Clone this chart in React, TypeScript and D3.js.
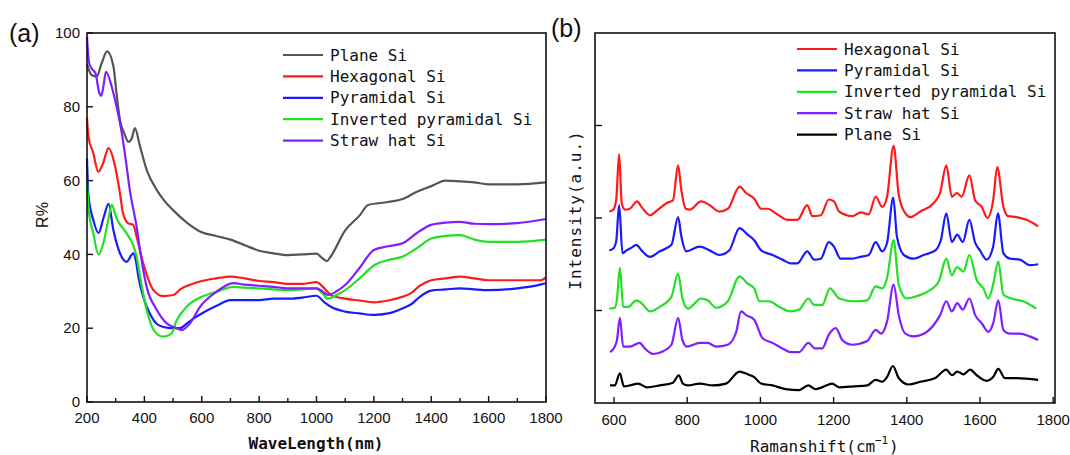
import React from "react";
import * as d3 from "d3";

type Pt = [number, number];

// ---- panel (a): reflectance vs wavelength ----
const reflNames = ["Plane Si", "Hexagonal Si", "Pyramidal Si", "Inverted pyramidal Si", "Straw hat Si"];
const reflColors = ["#555555", "#ff1a1a", "#1a1aff", "#22e022", "#7f1fff"];

const planeR: Pt[] = [[200, 91.5], [216, 88.6], [234, 88.2], [251, 91.8], [270, 95], [292, 91], [303, 83.6], [315, 76.4], [332, 72.4], [344, 70.5], [356, 71.5], [367, 74.2], [385, 69.2], [408, 62.9], [443, 57.5], [470, 54.5], [500, 52], [550, 48.5], [600, 46], [650, 45], [700, 44], [750, 42.5], [800, 41], [850, 40.3], [900, 39.8], [950, 40], [1000, 40.2], [1020, 39], [1036, 38.2], [1050, 39.5], [1100, 46.5], [1150, 50.5], [1180, 53.4], [1250, 54.2], [1300, 55], [1350, 57], [1400, 58.5], [1450, 60], [1500, 59.8], [1550, 59.5], [1600, 59], [1700, 59], [1800, 59.5]];
const hexR: Pt[] = [[200, 77], [205, 71.9], [222, 67.4], [239, 62.4], [255, 64.5], [275, 68.8], [298, 63.8], [315, 56.5], [326, 51], [344, 48.4], [361, 48], [373, 44.8], [396, 37.6], [431, 30.4], [466, 28.7], [501, 29], [525, 30.5], [550, 31.5], [600, 32.8], [650, 33.5], [700, 34], [750, 33.5], [800, 32.8], [850, 32.5], [900, 32], [950, 32], [1000, 32.5], [1025, 31], [1050, 29], [1100, 28], [1150, 27.5], [1200, 27], [1250, 27.5], [1300, 28.5], [1330, 29.5], [1360, 31.5], [1400, 33], [1450, 33.5], [1500, 34], [1550, 33.5], [1600, 33], [1700, 33], [1780, 33], [1800, 33.8]];
const pyrR: Pt[] = [[200, 66], [205, 56], [222, 49.3], [240, 45.8], [258, 50], [275, 53.7], [292, 46.6], [315, 40.3], [338, 38], [361, 40.3], [370, 38.5], [379, 34], [396, 28.5], [419, 24], [448, 20.9], [489, 20], [524, 20], [550, 21.4], [575, 22.8], [600, 24], [650, 26], [700, 27.6], [750, 27.6], [800, 27.6], [850, 28], [900, 28], [950, 28.3], [1000, 28.8], [1025, 27.2], [1050, 25.8], [1100, 24.5], [1150, 24], [1200, 23.6], [1250, 24], [1300, 25.4], [1330, 26.5], [1360, 28.5], [1400, 30.2], [1450, 30.5], [1500, 30.8], [1550, 30.5], [1600, 30.3], [1700, 30.8], [1780, 31.8], [1800, 32.2]];
const invR: Pt[] = [[200, 60], [206, 52], [222, 45.7], [240, 40], [257, 43], [274, 49.3], [286, 53.4], [303, 49.8], [338, 45.7], [361, 42.5], [373, 39.4], [385, 34], [408, 25], [437, 19], [466, 17.7], [495, 18.6], [512, 22], [547, 25.8], [594, 28.3], [652, 29.9], [710, 31.2], [750, 31], [800, 30.8], [850, 30.5], [900, 30.3], [950, 30.5], [1000, 30.8], [1020, 29.5], [1040, 28], [1070, 29], [1100, 30.3], [1150, 33.5], [1200, 37], [1250, 38.5], [1300, 39.4], [1350, 41.7], [1400, 44.3], [1450, 45], [1500, 45.2], [1550, 44], [1600, 43.4], [1700, 43.4], [1800, 44]];
const strawR: Pt[] = [[200, 99], [207, 92], [215, 90.5], [230, 89], [242, 84], [250, 83], [258, 86], [266, 89.5], [286, 85.5], [303, 80], [321, 73], [338, 64], [350, 57], [362, 52], [372, 48], [385, 41], [408, 31.2], [443, 25], [478, 21.3], [512, 20], [530, 19.5], [559, 21.3], [594, 25.8], [652, 29.9], [710, 32.2], [750, 31.8], [800, 31.5], [850, 31.2], [900, 30.8], [950, 30.8], [1000, 30.8], [1020, 30], [1040, 29], [1070, 30], [1100, 31.7], [1150, 36.3], [1200, 41.2], [1250, 42.2], [1300, 43], [1350, 45.8], [1400, 48], [1450, 48.6], [1500, 48.8], [1550, 48.3], [1600, 48.2], [1700, 48.5], [1800, 49.6]];
const reflSeries = [planeR, hexR, pyrR, invR, strawR];

// ---- panel (b): Raman spectra (stacked, arbitrary units) ----
const ramanNames = ["Hexagonal Si", "Pyramidal Si", "Inverted pyramidal Si", "Straw hat Si", "Plane Si"];
const ramanColors = ["#ff1a1a", "#1a1aff", "#22e022", "#7f1fff", "#000000"];

const hexRaman: Pt[] = [[587, 2.07], [598, 2.09], [606, 2.2], [614, 2.69], [621, 2.16], [630, 2.09], [643, 2.1], [663, 2.18], [675, 2.12], [698, 2.03], [720, 2.09], [743, 2.16], [761, 2.19], [775, 2.57], [784, 2.3], [796, 2.1], [807, 2.09], [838, 2.18], [861, 2.14], [888, 2.07], [911, 2.1], [943, 2.34], [961, 2.27], [983, 2.21], [1002, 2.1], [1020, 2.1], [1042, 2.05], [1074, 1.98], [1101, 1.98], [1128, 2.14], [1142, 2.02], [1165, 2.03], [1187, 2.2], [1201, 2.18], [1215, 2.07], [1251, 2.02], [1274, 2.06], [1296, 2.04], [1315, 2.23], [1333, 2.12], [1346, 2.23], [1364, 2.78], [1378, 2.25], [1396, 2.05], [1410, 2.01], [1437, 2.07], [1473, 2.16], [1491, 2.27], [1508, 2.57], [1523, 2.23], [1537, 2.27], [1550, 2.23], [1571, 2.46], [1587, 2.19], [1605, 2.12], [1620, 2.0], [1636, 2.19], [1647, 2.55], [1664, 2.12], [1677, 2.02], [1700, 2.01], [1727, 1.98], [1759, 1.91]];
const pyrRaman: Pt[] = [[587, 1.65], [598, 1.67], [606, 1.75], [614, 2.14], [623, 1.62], [634, 1.65], [648, 1.68], [661, 1.71], [675, 1.65], [698, 1.58], [725, 1.64], [757, 1.71], [775, 2.01], [784, 1.8], [797, 1.64], [834, 1.69], [861, 1.65], [888, 1.6], [915, 1.65], [943, 1.89], [965, 1.82], [983, 1.76], [1002, 1.65], [1033, 1.6], [1060, 1.55], [1083, 1.51], [1101, 1.51], [1128, 1.64], [1147, 1.55], [1165, 1.56], [1187, 1.74], [1201, 1.69], [1219, 1.56], [1246, 1.56], [1274, 1.58], [1296, 1.6], [1315, 1.74], [1333, 1.64], [1346, 1.73], [1363, 2.22], [1373, 1.8], [1392, 1.6], [1419, 1.56], [1446, 1.6], [1478, 1.65], [1493, 1.76], [1508, 2.05], [1523, 1.74], [1538, 1.82], [1553, 1.74], [1571, 1.98], [1587, 1.73], [1600, 1.65], [1618, 1.55], [1636, 1.69], [1649, 2.05], [1664, 1.62], [1682, 1.56], [1709, 1.55], [1736, 1.49], [1759, 1.5]];
const invRaman: Pt[] = [[587, 1.02], [602, 1.03], [608, 1.12], [616, 1.46], [625, 1.04], [639, 1.04], [661, 1.11], [675, 1.08], [698, 0.99], [725, 1.04], [757, 1.15], [775, 1.4], [787, 1.13], [802, 1.02], [838, 1.13], [856, 1.11], [879, 1.03], [911, 1.1], [943, 1.37], [965, 1.29], [983, 1.24], [997, 1.1], [1024, 1.1], [1051, 1.04], [1083, 0.99], [1106, 1.01], [1131, 1.13], [1147, 1.06], [1169, 1.06], [1190, 1.24], [1215, 1.13], [1256, 1.1], [1292, 1.11], [1315, 1.26], [1333, 1.24], [1346, 1.35], [1364, 1.76], [1378, 1.28], [1400, 1.13], [1423, 1.15], [1455, 1.2], [1487, 1.31], [1508, 1.56], [1523, 1.38], [1537, 1.47], [1555, 1.42], [1571, 1.6], [1591, 1.33], [1609, 1.24], [1623, 1.13], [1636, 1.28], [1650, 1.53], [1664, 1.17], [1686, 1.13], [1718, 1.1], [1754, 1.02]];
const strawRaman: Pt[] = [[589, 0.55], [602, 0.61], [608, 0.68], [616, 0.92], [625, 0.61], [643, 0.61], [670, 0.65], [684, 0.59], [707, 0.53], [734, 0.56], [757, 0.63], [775, 0.92], [787, 0.68], [799, 0.61], [834, 0.65], [856, 0.65], [879, 0.61], [911, 0.63], [934, 0.77], [947, 0.99], [961, 0.95], [983, 0.9], [1006, 0.7], [1033, 0.65], [1060, 0.59], [1083, 0.55], [1106, 0.55], [1131, 0.65], [1149, 0.59], [1169, 0.59], [1187, 0.74], [1206, 0.81], [1224, 0.68], [1251, 0.63], [1292, 0.67], [1315, 0.79], [1330, 0.75], [1346, 0.88], [1364, 1.28], [1378, 0.95], [1396, 0.75], [1419, 0.72], [1442, 0.74], [1473, 0.84], [1491, 0.95], [1508, 1.1], [1523, 0.99], [1538, 1.08], [1553, 1.01], [1571, 1.13], [1587, 0.95], [1605, 0.86], [1623, 0.77], [1636, 0.86], [1650, 1.11], [1664, 0.79], [1682, 0.75], [1709, 0.75], [1736, 0.72], [1759, 0.68]];
const planeRaman: Pt[] = [[589, 0.19], [602, 0.19], [616, 0.32], [627, 0.18], [643, 0.19], [666, 0.21], [689, 0.17], [725, 0.19], [761, 0.22], [777, 0.3], [788, 0.21], [802, 0.19], [834, 0.21], [870, 0.19], [906, 0.21], [943, 0.34], [965, 0.31], [983, 0.28], [1002, 0.21], [1033, 0.19], [1069, 0.15], [1106, 0.14], [1131, 0.19], [1151, 0.15], [1187, 0.2], [1196, 0.21], [1215, 0.17], [1256, 0.18], [1292, 0.19], [1315, 0.25], [1333, 0.23], [1346, 0.28], [1362, 0.4], [1378, 0.27], [1405, 0.2], [1437, 0.23], [1478, 0.27], [1508, 0.36], [1523, 0.3], [1538, 0.34], [1555, 0.31], [1573, 0.36], [1591, 0.3], [1618, 0.24], [1636, 0.28], [1650, 0.37], [1668, 0.27], [1700, 0.27], [1759, 0.25]];
const ramanSeries = [hexRaman, pyrRaman, invRaman, strawRaman, planeRaman];

const waveTicks = [200, 400, 600, 800, 1000, 1200, 1400, 1600, 1800];
const waveMinor = [300, 500, 700, 900, 1100, 1300, 1500, 1700];
const reflTicks = [0, 20, 40, 60, 80, 100];
const ramanTicks = [600, 800, 1000, 1200, 1400, 1600, 1800];
const intensityTicks = [1, 2, 3];

const mono = "'DejaVu Sans Mono', monospace";
const sans = "'Liberation Sans', Arial, sans-serif";

function Legend({ x, y, names, colors }: { x: number; y: number; names: string[]; colors: string[] }) {
  return (
    <g>
      {names.map((n, i) => (
        <g key={n} transform={`translate(${x},${y + i * 21.4})`}>
          <line x1={0} x2={40} y1={0} y2={0} stroke={colors[i]} strokeWidth={2.2} />
          <text x={47} y={0} dy="0.35em" fontFamily={mono} fontSize={16} fill="#111">{n}</text>
        </g>
      ))}
    </g>
  );
}

export default function App() {
  // panel (a)
  const xa = d3.scaleLinear().domain([200, 1800]).range([87, 546]);
  const ya = d3.scaleLinear().domain([0, 100]).range([402, 33]);
  const lineA = d3.line<Pt>().x(d => xa(d[0])).y(d => ya(d[1])).curve(d3.curveMonotoneX);

  // panel (b)
  const xb = d3.scaleLinear().domain([548, 1805]).range([595, 1055]);
  const yb = d3.scaleLinear().domain([0, 4]).range([403, 33]);
  const lineB = d3.line<Pt>().x(d => xb(d[0])).y(d => yb(d[1])).curve(d3.curveMonotoneX);

  return (
    <svg width={1070} height={455} style={{ display: "block", position: "absolute", left: 0, top: 0, background: "#fff" }}>
      {/* ===== (a) ===== */}
      <text x={9} y={33} dy="0.35em" fontFamily={sans} fontSize={25} fill="#111">(a)</text>
      <g>
        {reflSeries.map((s, i) => (
          <path key={i} d={lineA(s) || ""} fill="none" stroke={reflColors[i]} strokeWidth={2.2} strokeLinejoin="round" />
        ))}
        <rect x={87} y={33} width={546 - 87} height={402 - 33} fill="none" stroke="#111" strokeWidth={1.6} />
        {waveTicks.map(t => (
          <g key={t}>
            <line x1={xa(t)} x2={xa(t)} y1={402} y2={396} stroke="#111" strokeWidth={1.4} />
            <text x={xa(t)} y={418} dy="0.35em" textAnchor="middle" fontFamily={sans} fontSize={15} fill="#111">{t}</text>
          </g>
        ))}
        {waveMinor.map(t => (
          <line key={t} x1={xa(t)} x2={xa(t)} y1={402} y2={398} stroke="#111" strokeWidth={1.4} />
        ))}
        {reflTicks.map(t => (
          <g key={t}>
            <line x1={87} x2={93} y1={ya(t)} y2={ya(t)} stroke="#111" strokeWidth={1.4} />
            <text x={80} y={ya(t)} dy="0.35em" textAnchor="end" fontFamily={sans} fontSize={15} fill="#111">{t}</text>
          </g>
        ))}
        <text transform="translate(42,215) rotate(-90)" textAnchor="middle" dy="0.35em" fontFamily={sans} fontSize={16} fill="#111">R%</text>
        <text x={316} y={443} dy="0.35em" textAnchor="middle" fontFamily={mono} fontWeight="bold" fontSize={16} fill="#111">WaveLength(nm)</text>
        <Legend x={283} y={55} names={reflNames} colors={reflColors} />
      </g>

      {/* ===== (b) ===== */}
      <text x={551} y={28} dy="0.35em" fontFamily={sans} fontSize={25} fill="#111">(b)</text>
      <g>
        {ramanSeries.map((s, i) => (
          <path key={i} d={lineB(s) || ""} fill="none" stroke={ramanColors[i]} strokeWidth={2.2} strokeLinejoin="round" />
        ))}
        <rect x={595} y={33} width={1055 - 595} height={403 - 33} fill="none" stroke="#111" strokeWidth={1.6} />
        {ramanTicks.map(t => (
          <g key={t}>
            <line x1={xb(t)} x2={xb(t)} y1={403} y2={397} stroke="#111" strokeWidth={1.4} />
            <text x={xb(t)} y={420} dy="0.35em" textAnchor="middle" fontFamily={sans} fontSize={15} fill="#111">{t}</text>
          </g>
        ))}
        {intensityTicks.map(t => (
          <line key={t} x1={595} x2={602} y1={yb(t)} y2={yb(t)} stroke="#111" strokeWidth={1.4} />
        ))}
        <text transform="translate(575,210) rotate(-90)" textAnchor="middle" dy="0.35em" fontFamily={mono} fontSize={16} letterSpacing={1} fill="#111">Intensity(a.u.)</text>
        <text x={750} y={446} dy="0.35em" fontFamily={mono} fontSize={16} fill="#111">Ramanshift(cm</text>
        <text x={875} y={440} dy="0.35em" fontFamily={mono} fontSize={11} fill="#111">−1</text>
        <text x={889} y={446} dy="0.35em" fontFamily={mono} fontSize={16} fill="#111">)</text>
        <Legend x={797} y={49} names={ramanNames} colors={ramanColors} />
      </g>
    </svg>
  );
}
